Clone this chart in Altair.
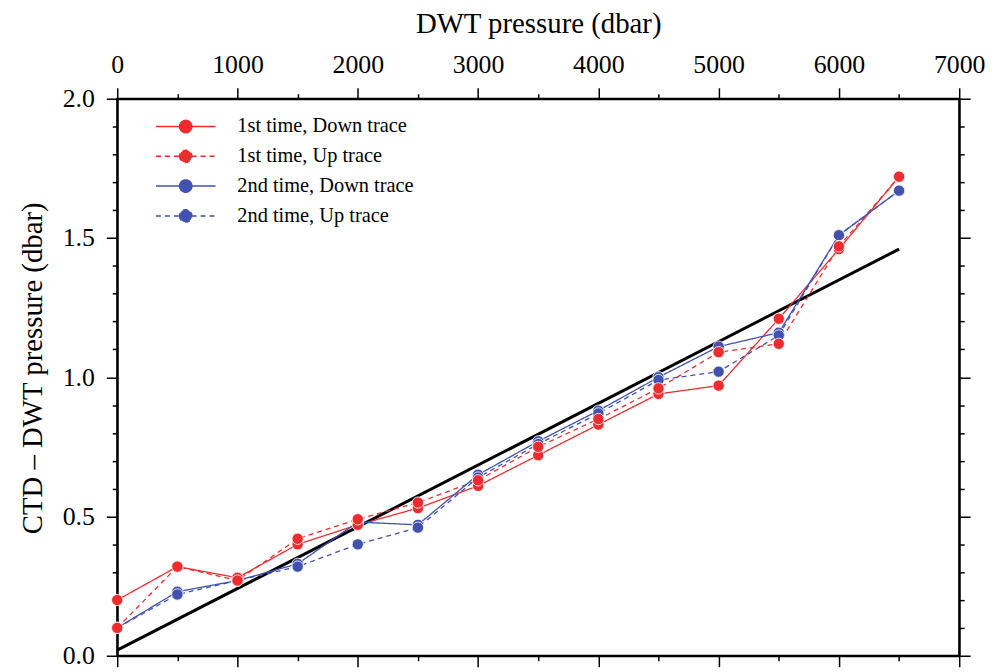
import altair as alt
import pandas as pd

# ---------------- data ----------------
pressure = [0, 500, 1000, 1500, 2000, 2500, 3000, 3500, 4000, 4500, 5000, 5500, 6000, 6500]

series_names = [
    "1st time, Down trace",
    "1st time, Up trace",
    "2nd time, Down trace",
    "2nd time, Up trace",
]

first_down = [0.20, 0.32, 0.28, 0.40, 0.47, 0.53, 0.61, 0.72, 0.83, 0.94, 0.97, 1.21, 1.46, 1.72]
first_up = [0.10, 0.32, 0.27, 0.42, 0.49, 0.55, 0.63, 0.75, 0.85, 0.96, 1.09, 1.12, 1.47, 1.72]
second_down = [0.10, 0.23, 0.27, 0.33, 0.48, 0.47, 0.65, 0.77, 0.88, 1.00, 1.11, 1.16, 1.51, 1.67]
second_up = [0.10, 0.22, 0.27, 0.32, 0.40, 0.46, 0.64, 0.76, 0.87, 0.99, 1.02, 1.15, 1.51, 1.67]

fit_pressure = [0, 6500]
fit_diff = [0.02, 1.46]

x_major_ticks = [0, 1000, 2000, 3000, 4000, 5000, 6000, 7000]
x_minor_ticks = [500, 1500, 2500, 3500, 4500, 5500, 6500]
y_major_ticks = [0.0, 0.5, 1.0, 1.5, 2.0]
y_minor_ticks = [0.1, 0.2, 0.3, 0.4, 0.6, 0.7, 0.8, 0.9, 1.1, 1.2, 1.3, 1.4,
                 1.6, 1.7, 1.8, 1.9]

# ---------------- styles ----------------
RED = "#ee2b2f"
BLUE = "#4152ae"
colors = [RED, RED, BLUE, BLUE]
dashes = [[1, 0], [5, 4], [1, 0], [5, 4]]
FONT = "Liberation Serif"
LEGEND_SYMBOL = ("M-3,0L-0.6,0M0.6,0L3,0"
                 "M-0.62,0A0.62,0.62,0,1,0,0.62,0A0.62,0.62,0,1,0,-0.62,0Z")

rows = []
for name, vals in zip(series_names, [first_down, first_up, second_down, second_up]):
    for p, v in zip(pressure, vals):
        rows.append({"p": p, "d": v, "series": name})
df = pd.DataFrame(rows)
df_blue = df[df["series"].str.startswith("2nd")]
df_red = df[df["series"].str.startswith("1st")]
fit_df = pd.DataFrame({"p": fit_pressure, "d": fit_diff})

xs = alt.Scale(domain=[0, 7000], nice=False, zero=False)
ys = alt.Scale(domain=[0, 2], nice=False, zero=False)


def paint_scale():
    return alt.Scale(domain=series_names, range=colors)


dash_scale = alt.Scale(domain=series_names, range=dashes)


def legend_def():
    return alt.Legend(title=None, orient="none", legendX=58, legendY=17,
                      symbolType=LEGEND_SYMBOL)


def major_axis(orient, values, title=None, fmt=None, labels=True):
    args = dict(orient=orient, values=values, tickSize=11, grid=False,
                labelFlush=False, labelOverlap=False, labels=labels, domain=True,
                title=title)
    if fmt is not None:
        args["format"] = fmt
    return alt.Axis(**args)


def minor_axis(orient, values):
    return alt.Axis(orient=orient, values=values, tickSize=5, grid=False,
                    labels=False, domain=False, title=None)


x_top_major = major_axis("top", x_major_ticks, "DWT pressure (dbar)", "d")
y_left_major = major_axis("left", y_major_ticks, "CTD \u2013 DWT pressure (dbar)", ".1f")
x_top_minor = minor_axis("top", x_minor_ticks)
y_left_minor = minor_axis("left", y_minor_ticks)
x_bottom_major = major_axis("bottom", x_major_ticks, labels=False)
y_right_major = major_axis("right", y_major_ticks, labels=False)
x_bottom_minor = minor_axis("bottom", x_minor_ticks)
y_right_minor = minor_axis("right", y_minor_ticks)

fit = alt.Chart(fit_df).mark_line(color="black", strokeWidth=3).encode(
    x=alt.X("p:Q", scale=xs, axis=x_top_major),
    y=alt.Y("d:Q", scale=ys, axis=y_left_major),
)

lines = alt.Chart(df).mark_line(strokeWidth=1.3).encode(
    x=alt.X("p:Q", scale=xs, axis=x_top_minor),
    y=alt.Y("d:Q", scale=ys, axis=y_left_minor),
    stroke=alt.Stroke("series:N", scale=paint_scale(), legend=legend_def()),
    strokeDash=alt.StrokeDash("series:N", scale=dash_scale, legend=legend_def()),
)

dots_blue = alt.Chart(df_blue).mark_circle(size=130, opacity=1, stroke="white",
                                           strokeWidth=0.8).encode(
    x=alt.X("p:Q", scale=xs, axis=x_bottom_major),
    y=alt.Y("d:Q", scale=ys, axis=y_right_major),
    fill=alt.Fill("series:N", scale=paint_scale(), legend=legend_def()),
)

dots_red = alt.Chart(df_red).mark_circle(size=130, opacity=1, stroke="white",
                                         strokeWidth=0.8).encode(
    x=alt.X("p:Q", scale=xs, axis=x_bottom_minor),
    y=alt.Y("d:Q", scale=ys, axis=y_right_minor),
    fill=alt.Fill("series:N", scale=paint_scale(), legend=legend_def()),
)

chart = (
    alt.layer(fit, lines, dots_blue, dots_red)
    .resolve_axis(x="independent", y="independent")
    .properties(
        width=848,
        height=561,
        autosize=alt.AutoSizeParams(type="none"),
        padding={"left": 110, "top": 89, "right": 30, "bottom": 14},
        background="white",
    )
    .configure_view(stroke="black", strokeWidth=2)
    .configure_axis(
        domainColor="black", domainWidth=2, tickColor="black", tickWidth=1.5,
        labelFont=FONT, labelFontSize=26, labelColor="black",
        titleFont=FONT, titleFontSize=29, titleFontWeight="normal", titleColor="black",
    )
    .configure_axisLeft(labelPadding=12, titlePadding=15, titleY=271)
    .configure_axisTop(labelPadding=10, titlePadding=14)
    .configure_legend(
        symbolSize=400, symbolStrokeWidth=1.5, symbolOpacity=1,
        labelFont=FONT, labelFontSize=20.5, labelColor="black", labelOffset=41,
        rowPadding=8, padding=0, labelLimit=400,
    )
)

chart.save("out.html", embed_options={"renderer": "svg", "actions": False})
